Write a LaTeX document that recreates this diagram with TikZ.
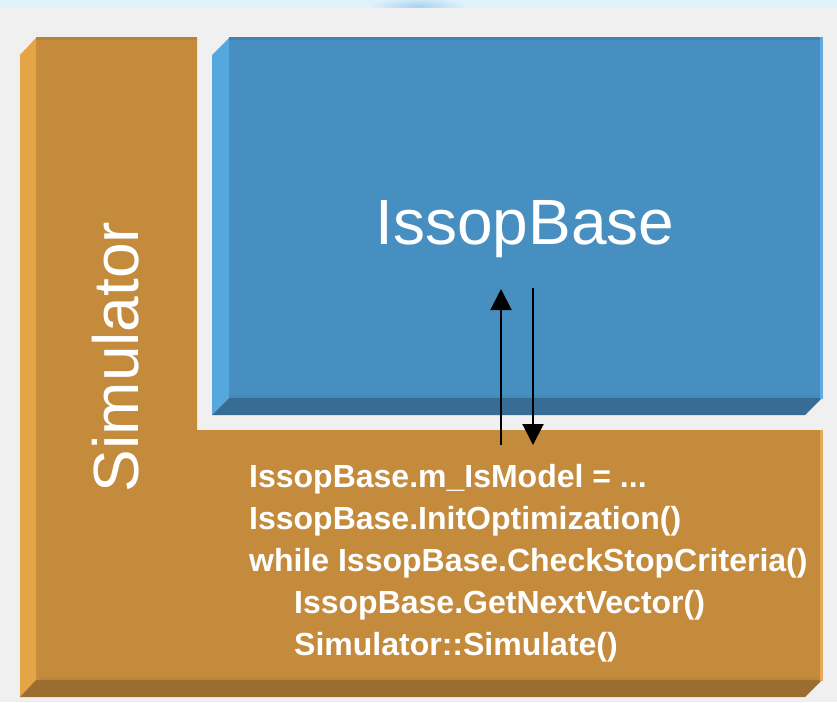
\documentclass[tikz,border=0pt]{standalone}
\usepackage{fontspec}
\setmainfont{Liberation Sans}
\usetikzlibrary{arrows.meta}

% Palette
\definecolor{bg}{HTML}{F0F0F0}
\definecolor{band}{HTML}{DFF2FC}
\definecolor{bandblob}{HTML}{A9D2EE}
\definecolor{orFace}{HTML}{C48B3C}
\definecolor{orLeft}{HTML}{E5A446}
\definecolor{orBottom}{HTML}{9B6D2F}
\definecolor{orTop}{HTML}{B7823A}
\definecolor{orEdge}{HTML}{E6A85A}
\definecolor{blFace}{HTML}{478FC1}
\definecolor{blLeft}{HTML}{54A7DF}
\definecolor{blBottom}{HTML}{376D95}
\definecolor{blTop}{HTML}{3F82B4}
\definecolor{blEdge}{HTML}{62ABE2}

\tikzset{
  bigtitle/.style={text=white, inner sep=0pt, font=\fontsize{64}{70}\selectfont},
  codeline/.style={text=white, inner sep=0pt, anchor=base west,
                   font=\bfseries\fontsize{32}{38}\selectfont},
  flow/.style={line width=2pt, -{Triangle[width=21pt,length=21pt]}},
}

\begin{document}
\begin{tikzpicture}[x=1pt,y=-1pt]
  \useasboundingbox (0,0) rectangle (837,702);
  \fill[bg] (0,0) rectangle (837,702);

  % light strip along the top edge
  \fill[band] (0,0) rectangle (837,7);
  \begin{scope}
    \clip (0,0) rectangle (837,7);
    \shade[inner color=bandblob, outer color=band] (418,6) ellipse (48 and 9);
  \end{scope}

  % ---- Simulator block (L shape with bevel) ----
  \fill[orLeft]   (20,55) -- (36,38) -- (36,680) -- (20,697) -- cycle;
  \fill[orBottom] (20,697) -- (36,680) -- (822,680) -- (805,697) -- cycle;
  \fill[orFace]   (36,37) -- (197,37) -- (197,430) -- (820,430)
                  -- (820,680) -- (36,680) -- cycle;
  \fill[orTop]    (36,37) rectangle (197,40);
  \fill[orEdge]   (820,430) rectangle (823,681);
  \fill[orFace!92!orLeft] (36,40) rectangle (39,680);
  \fill[orFace!85!orBottom] (39,677) rectangle (820,680);

  % ---- IssopBase block ----
  \fill[blLeft]   (212,55) -- (229,38) -- (229,398) -- (212,415) -- cycle;
  \fill[blBottom] (212,415) -- (229,398) -- (822,398) -- (805,415) -- cycle;
  \fill[blFace]   (229,37) rectangle (820,398);
  \fill[blTop]    (229,37) rectangle (820,40);
  \fill[blEdge]   (820,37) rectangle (823,399);
  \fill[blFace!85!blBottom] (229,395) rectangle (820,398);

  % ---- labels ----
  \node[bigtitle, rotate=90] (sim) at (116,357) {Simulator};
  \node[bigtitle, anchor=base] (base) at (525,244) {IssopBase};

  \node[codeline] (c1) at (249,487) {IssopBase.m\_IsModel = ...};
  \node[codeline] (c2) at (249,529) {IssopBase.InitOptimization()};
  \node[codeline] (c3) at (249,571) {while IssopBase.CheckStopCriteria()};
  \node[codeline] (c4) at (294,613) {IssopBase.GetNextVector()};
  \node[codeline] (c5) at (294,655) {Simulator::Simulate()};

  % ---- calls between the simulator and the optimiser ----
  \coordinate (upFrom)   at (501,445);
  \coordinate (upTo)     at (501,289);
  \coordinate (downFrom) at (533,288);
  \coordinate (downTo)   at (533,445);
  \draw[flow] (upFrom) -- (upTo);
  \draw[flow] (downFrom) -- (downTo);
\end{tikzpicture}
\end{document}
